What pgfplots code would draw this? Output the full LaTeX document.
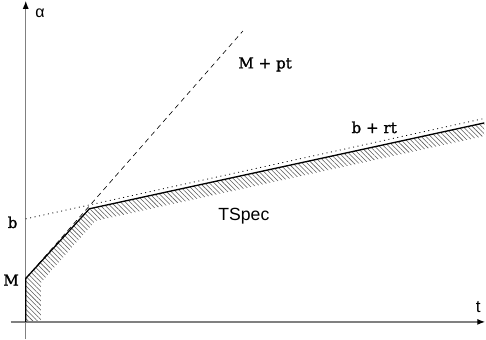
\documentclass[border=0pt]{standalone}
\usepackage{fontspec}
\setmainfont{DejaVu Serif}
\newfontfamily\lblfont[FakeBold=1.3]{DejaVu Serif}
\newfontfamily\labelsans{Liberation Sans}
\usepackage{pgfplots}
\pgfplotsset{compat=1.18}
\usetikzlibrary{patterns.meta,arrows.meta}

\begin{document}
\begin{tikzpicture}
\begin{axis}[
  scale only axis,
  width=486bp, height=338bp,
  xmin=-31, xmax=455,
  ymin=-17, ymax=321,
  axis lines=none,
  clip=false,
]
% hatched region below the service curve
\addplot[draw=none, pattern={Lines[angle=135,distance=3.3pt,line width=0.55pt]}, pattern color=black!65]
  coordinates {(0,0) (0,43) (63,112) (454,197) (454,184) (69,100) (15,39) (15,0)} -- cycle;

% axes
\draw[gray, line width=1.4pt, -{Latex[black,length=8pt,width=6pt]}]
  (axis cs:-15,0) -- (axis cs:455,0);
\draw[gray, line width=1.4pt, -{Latex[black,length=8pt,width=6pt]}]
  (axis cs:0,-17) -- (axis cs:0,318);

% M + pt
\addplot[black, line width=0.6pt, dash pattern=on 5pt off 4pt]
  coordinates {(0,43) (215,288)};
% b + rt
\addplot[black, line width=0.8pt, dash pattern=on 1pt off 3.5pt]
  coordinates {(0,102) (452,201)};
% TSpec curve
\addplot[black, line width=1.3pt]
  coordinates {(0,0) (0,43) (63,112) (454,197)};

\tikzset{lbl/.style={anchor=base, font=\lblfont\fontsize{15}{17}\selectfont}}
\node[lbl] at (axis cs:237,251) {M + pt};
\node[lbl] at (axis cs:345,187) {b + rt};
\node[lbl] at (axis cs:-13,93) {b};
\node[lbl] at (axis cs:-14.5,36) {M};
\node[anchor=base, font=\labelsans\fontsize{17.5}{19}\selectfont] at (axis cs:216,100.5) {TSpec};
\node[anchor=base west, font=\labelsans\fontsize{16}{18}\selectfont] at (axis cs:6,301) {α};
\node[anchor=base, font=\labelsans\fontsize{17}{19}\selectfont] at (axis cs:448,9) {t};
\end{axis}
\end{tikzpicture}
\end{document}
